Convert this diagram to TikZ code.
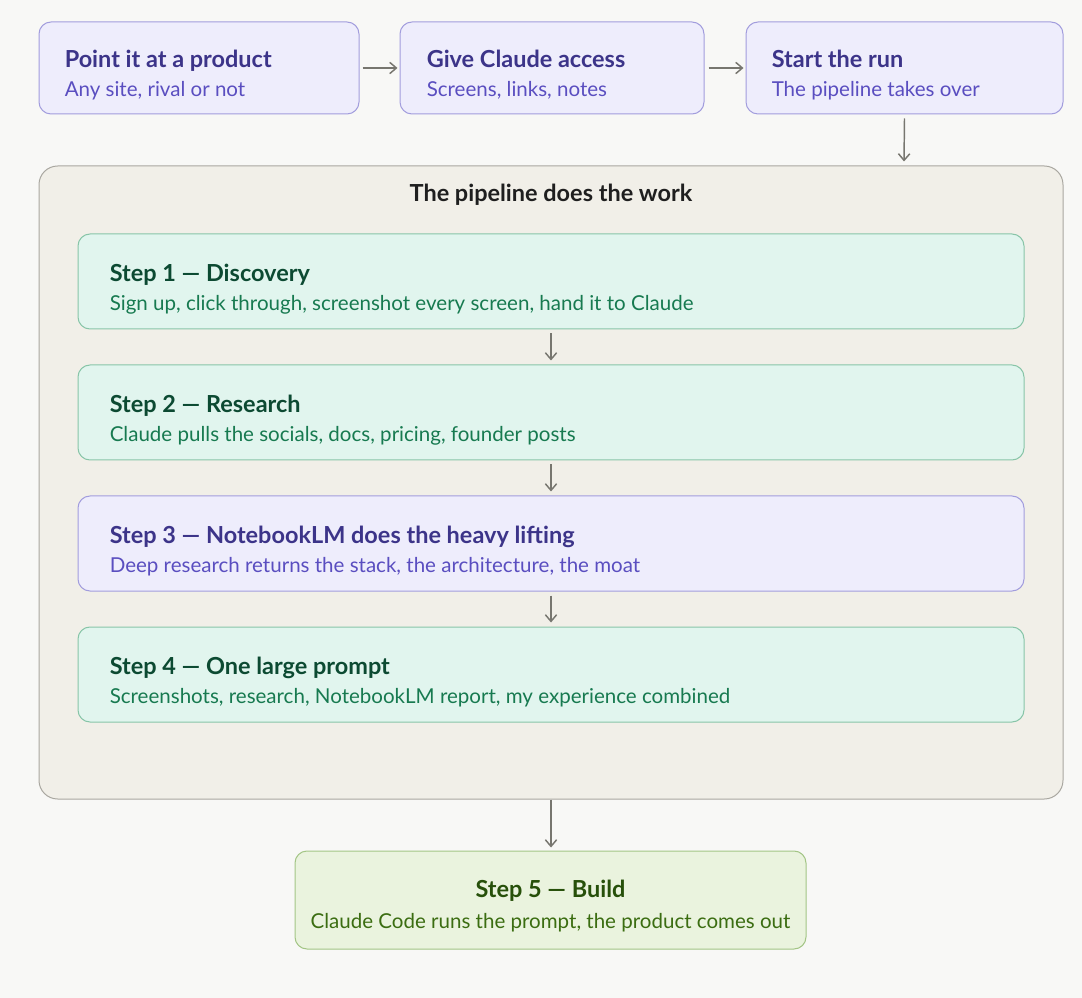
\documentclass[tikz,border=0pt]{standalone}
\usepackage{fontspec}
\setmainfont{Lato}
\usetikzlibrary{arrows.meta,positioning}

\definecolor{pagebg}{HTML}{F8F8F6}
\definecolor{lavfill}{HTML}{EEEDFC}
\definecolor{lavline}{HTML}{A29DDD}
\definecolor{lavtitle}{HTML}{3C3489}
\definecolor{lavsub}{HTML}{5A4EC0}
\definecolor{mintfill}{HTML}{E1F5EE}
\definecolor{mintline}{HTML}{88C5A8}
\definecolor{minttitle}{HTML}{0C4A32}
\definecolor{mintsub}{HTML}{177A50}
\definecolor{limefill}{HTML}{EAF3DE}
\definecolor{limeline}{HTML}{A3C585}
\definecolor{limetitle}{HTML}{27500A}
\definecolor{limesub}{HTML}{3B6D11}
\definecolor{panelfill}{HTML}{F1EFE8}
\definecolor{panelline}{HTML}{A9A7A0}
\definecolor{arrowgray}{HTML}{77766F}

\def\px{0.75pt}

\begin{document}
\begin{tikzpicture}[
    x=0.75pt, y=-0.75pt,
    >={Straight Barb[length=5pt,width=8.5pt]},
    card/.style={
        rounded corners=9pt, line width=0.75pt,
        inner sep=0pt, minimum height=92*\px,
    },
    lavcard/.style={card, draw=lavline, fill=lavfill},
    mintcard/.style={card, draw=mintline, fill=mintfill, minimum height=95*\px},
    limecard/.style={card, draw=limeline, fill=limefill, minimum height=98*\px},
    headtext/.style={font=\fontsize{17.6pt}{20pt}\selectfont\bfseries, inner sep=0pt},
    subtext/.style={font=\fontsize{15.4pt}{18pt}\selectfont, inner sep=0pt},
    flow/.style={->, line width=1.1pt, draw=arrowgray},
]

% page background
\fill[pagebg] (0,0) rectangle (1082,998);
\useasboundingbox (0,0) rectangle (1082,998);

% ── Top row ─────────────────────────────────────────────────
\node[lavcard, minimum width=320*\px] (point) at (199,68) {};
\node[lavcard, minimum width=304*\px] (access) at (552,68) {};
\node[lavcard, minimum width=317*\px] (start) at (904.5,68) {};

\node[headtext, lavtitle, anchor=base west] (pointT)
    at ([xshift=26*\px]point.west) {Point it at a product};
\node[subtext, lavsub, anchor=base west] (pointS)
    at ([xshift=26*\px, yshift=-29*\px]point.west) {Any site, rival or not};
\node[headtext, lavtitle, anchor=base west] (accessT)
    at ([xshift=27*\px]access.west) {Give Claude access};
\node[subtext, lavsub, anchor=base west] (accessS)
    at ([xshift=27*\px, yshift=-29*\px]access.west) {Screens, links, notes};
\node[headtext, lavtitle, anchor=base west] (startT)
    at ([xshift=26*\px]start.west) {Start the run};
\node[subtext, lavsub, anchor=base west] (startS)
    at ([xshift=26*\px, yshift=-29*\px]start.west) {The pipeline takes over};

% ── Pipeline panel ──────────────────────────────────────────
\node[card, draw=panelline, fill=panelfill, rounded corners=14pt,
      minimum width=1024*\px, minimum height=633*\px] (pipe) at (551,482.5) {};
\node[headtext, color=black!88, anchor=base] (pipeT)
    at ([yshift=-36*\px]pipe.north) {The pipeline does the work};

% ── Steps inside the panel ──────────────────────────────────
\node[mintcard, minimum width=946*\px] (step1) at (551,281.5) {};
\node[mintcard, minimum width=946*\px] (step2) at (551,412.5) {};
\node[lavcard, minimum width=946*\px, minimum height=95*\px] (step3) at (551,543.5) {};
\node[mintcard, minimum width=946*\px] (step4) at (551,674.5) {};

\foreach \s/\head/\sub/\hc/\sc in {
    step1/{Step 1 — Discovery}/{Sign up, click through, screenshot every screen, hand it to Claude}/minttitle/mintsub,
    step2/{Step 2 — Research}/{Claude pulls the socials, docs, pricing, founder posts}/minttitle/mintsub,
    step3/{Step 3 — NotebookLM does the heavy lifting}/{Deep research returns the stack, the architecture, the moat}/lavtitle/lavsub,
    step4/{Step 4 — One large prompt}/{Screenshots, research, NotebookLM report, my experience combined}/minttitle/mintsub} {
    \node[headtext, \hc, anchor=base west] (\s T)
        at ([xshift=32*\px]\s.west) {\head};
    \node[subtext, \sc, anchor=base west] (\s S)
        at ([xshift=32*\px, yshift=-29*\px]\s.west) {\sub};
}

% ── Final step ──────────────────────────────────────────────
\node[limecard, minimum width=511*\px] (step5) at (550.5,900) {};
\node[headtext, limetitle, anchor=base] (step5T)
    at ([yshift=3*\px]step5.center) {Step 5 — Build};
\node[subtext, limesub, anchor=base] (step5S)
    at ([yshift=-28*\px]step5.center) {Claude Code runs the prompt, the product comes out};

% ── Connectors ──────────────────────────────────────────────
\draw[flow] ([xshift=3*\px]point.east) -- ([xshift=-2*\px]access.west);
\draw[flow] ([xshift=4*\px]access.east) -- ([xshift=-2*\px]start.west);
\draw[flow] ([yshift=-4*\px]start.south) -- ([xshift=-0.5*\px, yshift=4*\px]start.south |- pipe.north);
\draw[flow] ([yshift=-4*\px]step1.south) -- ([yshift=4*\px]step2.north);
\draw[flow] ([yshift=-4*\px]step2.south) -- ([yshift=4*\px]step3.north);
\draw[flow] ([yshift=-4*\px]step3.south) -- ([yshift=4*\px]step4.north);
\draw[flow] (pipe.south) -- ([yshift=3*\px]pipe.south |- step5.north);

\end{tikzpicture}
\end{document}
